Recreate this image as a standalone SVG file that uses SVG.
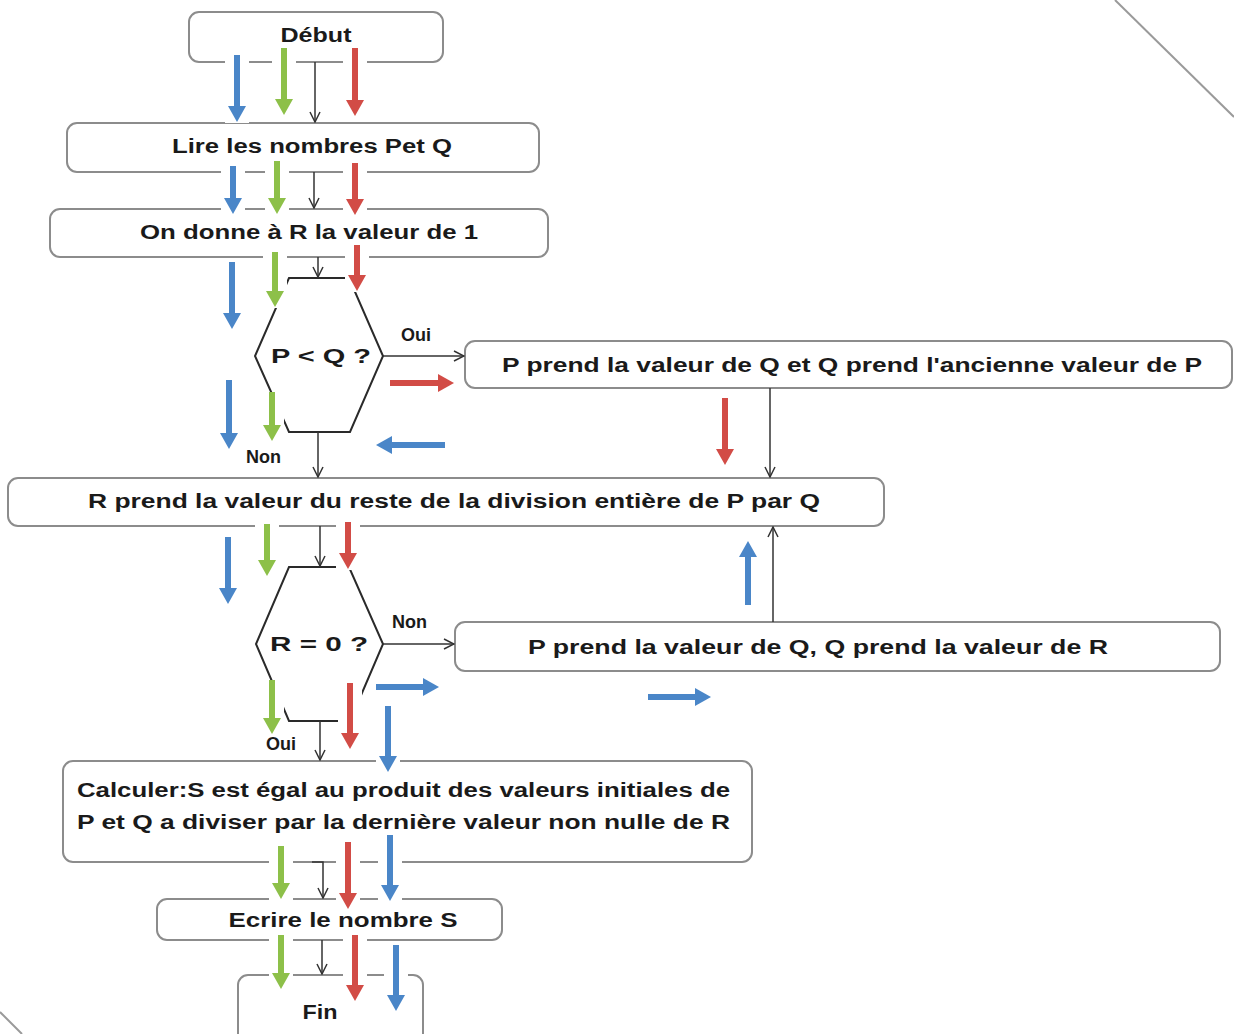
<svg xmlns="http://www.w3.org/2000/svg" width="1234" height="1034" viewBox="0 0 1234 1034">
<defs>
<style>
.box{fill:#fff;stroke:#8c8c8c;stroke-width:2}
.dec{fill:none;stroke:#2a2a2a;stroke-width:2;stroke-linejoin:miter}
.t{font-family:"Liberation Sans",Arial,sans-serif;font-weight:bold;font-size:20px;fill:#1a1a1a;text-anchor:middle}
.tl{font-family:"Liberation Sans",Arial,sans-serif;font-weight:bold;font-size:20px;fill:#1a1a1a}
.lab{font-family:"Liberation Sans",Arial,sans-serif;font-weight:bold;font-size:18px;fill:#1a1a1a}
.conn{fill:none;stroke:#333;stroke-width:1.5;marker-end:url(#open)}
.halo{stroke:#fff;stroke-width:24;fill:none}
.ab{stroke:#4a86c8;stroke-width:6;fill:none;marker-end:url(#hb)}
.ag{stroke:#8dc049;stroke-width:6;fill:none;marker-end:url(#hg)}
.ar{stroke:#d24c46;stroke-width:6;fill:none;marker-end:url(#hr)}
.edge{stroke:#9a9a9a;stroke-width:2;fill:none}
</style>
<marker id="open" viewBox="0 0 12 12" refX="11" refY="6" markerWidth="12" markerHeight="12" markerUnits="userSpaceOnUse" orient="auto"><path d="M1,1 L11,6 L1,11" fill="none" stroke="#333" stroke-width="1.5"/></marker>
<marker id="hb" viewBox="0 0 16 18" refX="1" refY="9" markerWidth="16" markerHeight="18" markerUnits="userSpaceOnUse" orient="auto"><path d="M0,0 L16,9 L0,18 z" fill="#4a86c8"/></marker>
<marker id="hg" viewBox="0 0 16 18" refX="1" refY="9" markerWidth="16" markerHeight="18" markerUnits="userSpaceOnUse" orient="auto"><path d="M0,0 L16,9 L0,18 z" fill="#8dc049"/></marker>
<marker id="hr" viewBox="0 0 16 18" refX="1" refY="9" markerWidth="16" markerHeight="18" markerUnits="userSpaceOnUse" orient="auto"><path d="M0,0 L16,9 L0,18 z" fill="#d24c46"/></marker>
</defs>
<rect width="1234" height="1034" fill="#fff"/>
<line class="edge" x1="1115" y1="0" x2="1234" y2="117"/>
<line class="edge" x1="0" y1="1012" x2="22" y2="1034"/>

<g id="debut"><rect class="box" x="189" y="12" width="254" height="50" rx="10"/><text class="t" x="316" y="42" textLength="71" lengthAdjust="spacingAndGlyphs">Début</text></g>
<g id="lire"><rect class="box" x="67" y="123" width="472" height="49" rx="10"/><text class="t" x="312" y="153" textLength="280" lengthAdjust="spacingAndGlyphs">Lire les nombres Pet Q</text></g>
<g id="init-r"><rect class="box" x="50" y="209" width="498" height="48" rx="10"/><text class="t" x="309" y="239" textLength="338" lengthAdjust="spacingAndGlyphs">On donne à R la valeur de 1</text></g>
<g id="test-pq"><path class="dec" d="M289,278 L349,278 L383,356 L350,432 L289,432 L255,356 Z"/><text class="t" x="321" y="363" textLength="100" lengthAdjust="spacingAndGlyphs">P &lt; Q ?</text></g>
<g id="swap"><rect class="box" x="465" y="341" width="767" height="47" rx="10"/><text class="t" x="852" y="372" textLength="700" lengthAdjust="spacingAndGlyphs">P prend la valeur de Q et Q prend l'ancienne valeur de P</text></g>
<g id="reste"><rect class="box" x="8" y="478" width="876" height="48" rx="10"/><text class="t" x="454" y="508" textLength="732" lengthAdjust="spacingAndGlyphs">R prend la valeur du reste de la division entière de P par Q</text></g>
<g id="test-r"><path class="dec" d="M289,567 L349,567 L383,644 L350,721 L289,721 L256,644 Z"/><text class="t" x="319" y="651" textLength="98" lengthAdjust="spacingAndGlyphs">R = 0 ?</text></g>
<g id="update"><rect class="box" x="455" y="622" width="765" height="49" rx="10"/><text class="t" x="818" y="654" textLength="580" lengthAdjust="spacingAndGlyphs">P prend la valeur de Q, Q prend la valeur de R</text></g>
<g id="calcul"><rect class="box" x="63" y="761" width="689" height="101" rx="10"/><text class="tl" x="77" y="797" textLength="653" lengthAdjust="spacingAndGlyphs">Calculer:S est égal au produit des valeurs initiales de</text><text class="tl" x="77" y="829" textLength="653" lengthAdjust="spacingAndGlyphs">P et Q a diviser par la dernière valeur non nulle de R</text></g>
<g id="ecrire"><rect class="box" x="157" y="899" width="345" height="41" rx="10"/><text class="t" x="343" y="927" textLength="229" lengthAdjust="spacingAndGlyphs">Ecrire le nombre S</text></g>
<g id="fin"><rect class="box" x="238" y="975" width="185" height="70" rx="10"/><text class="t" x="320" y="1019" textLength="35" lengthAdjust="spacingAndGlyphs">Fin</text></g>

<g id="halos">
<line class="halo" x1="237" y1="55" x2="237" y2="123"/><line class="halo" x1="284" y1="48" x2="284" y2="116"/><line class="halo" x1="355" y1="48" x2="355" y2="117"/>
<line class="halo" x1="233" y1="166" x2="233" y2="215"/><line class="halo" x1="277" y1="161" x2="277" y2="215"/><line class="halo" x1="355" y1="163" x2="355" y2="216"/>
<line class="halo" x1="232" y1="262" x2="232" y2="330"/><line class="halo" x1="275" y1="252" x2="275" y2="308"/><line class="halo" x1="357" y1="245" x2="357" y2="292"/>
<line class="halo" x1="229" y1="380" x2="229" y2="450"/><line class="halo" x1="272" y1="392" x2="272" y2="442"/>
<line class="halo" x1="228" y1="537" x2="228" y2="605"/><line class="halo" x1="267" y1="524" x2="267" y2="577"/><line class="halo" x1="348" y1="522" x2="348" y2="570"/>
<line class="halo" x1="272" y1="680" x2="272" y2="735"/><line class="halo" x1="350" y1="683" x2="350" y2="750"/><line class="halo" x1="388" y1="706" x2="388" y2="773"/>
<line class="halo" x1="281" y1="846" x2="281" y2="900"/><line class="halo" x1="348" y1="842" x2="348" y2="910"/><line class="halo" x1="390" y1="835" x2="390" y2="902"/>
<line class="halo" x1="281" y1="935" x2="281" y2="990"/><line class="halo" x1="355" y1="935" x2="355" y2="1002"/><line class="halo" x1="396" y1="945" x2="396" y2="1012"/>
</g>

<g id="connectors">
<line class="conn" x1="315" y1="62" x2="315" y2="122"/>
<line class="conn" x1="314" y1="172" x2="314" y2="208"/>
<line class="conn" x1="318" y1="257" x2="318" y2="277"/>
<line class="conn" x1="383" y1="356" x2="464" y2="356"/>
<line class="conn" x1="318" y1="432" x2="318" y2="477"/>
<line class="conn" x1="770" y1="388" x2="770" y2="477"/>
<line class="conn" x1="320" y1="526" x2="320" y2="566"/>
<line class="conn" x1="383" y1="644" x2="454" y2="644"/>
<line class="conn" x1="773" y1="622" x2="773" y2="527"/>
<line class="conn" x1="320" y1="721" x2="320" y2="760"/>
<path class="conn" d="M312,862 L323,862 L323,898"/>
<line class="conn" x1="322" y1="940" x2="322" y2="974"/>
<text class="lab" x="401" y="341">Oui</text>
<text class="lab" x="246" y="463">Non</text>
<text class="lab" x="392" y="628">Non</text>
<text class="lab" x="266" y="750">Oui</text>
</g>

<g id="trace-arrows">
<line class="ab" x1="237" y1="55" x2="237" y2="107"/><line class="ag" x1="284" y1="48" x2="284" y2="100"/><line class="ar" x1="355" y1="48" x2="355" y2="101"/>
<line class="ab" x1="233" y1="166" x2="233" y2="199"/><line class="ag" x1="277" y1="161" x2="277" y2="199"/><line class="ar" x1="355" y1="163" x2="355" y2="200"/>
<line class="ab" x1="232" y1="262" x2="232" y2="314"/><line class="ag" x1="275" y1="252" x2="275" y2="292"/><line class="ar" x1="357" y1="245" x2="357" y2="276"/>
<line class="ab" x1="229" y1="380" x2="229" y2="434"/><line class="ag" x1="272" y1="392" x2="272" y2="426"/>
<line class="ar" x1="390" y1="383" x2="439" y2="383"/>
<line class="ab" x1="445" y1="445" x2="391" y2="445"/>
<line class="ar" x1="725" y1="398" x2="725" y2="450"/>
<line class="ab" x1="228" y1="537" x2="228" y2="589"/><line class="ag" x1="267" y1="524" x2="267" y2="561"/><line class="ar" x1="348" y1="522" x2="348" y2="554"/>
<line class="ab" x1="748" y1="605" x2="748" y2="556"/>
<line class="ag" x1="272" y1="680" x2="272" y2="719"/><line class="ar" x1="350" y1="683" x2="350" y2="734"/><line class="ab" x1="388" y1="706" x2="388" y2="757"/>
<line class="ab" x1="376" y1="687" x2="424" y2="687"/>
<line class="ab" x1="648" y1="697" x2="696" y2="697"/>
<line class="ag" x1="281" y1="846" x2="281" y2="884"/><line class="ar" x1="348" y1="842" x2="348" y2="894"/><line class="ab" x1="390" y1="835" x2="390" y2="886"/>
<line class="ag" x1="281" y1="935" x2="281" y2="974"/><line class="ar" x1="355" y1="935" x2="355" y2="986"/><line class="ab" x1="396" y1="945" x2="396" y2="996"/>
</g>
</svg>
